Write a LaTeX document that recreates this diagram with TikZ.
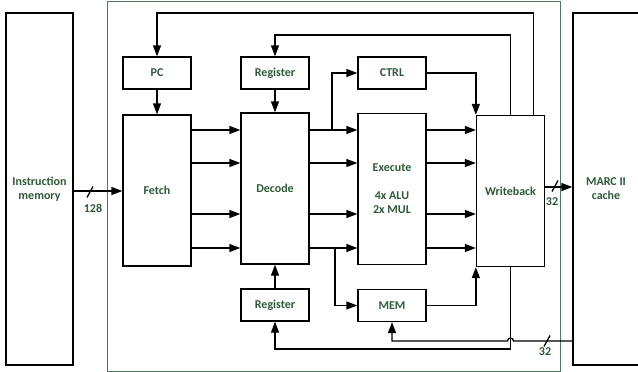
\documentclass[tikz,border=0pt]{standalone}
\usepackage{fontspec}
\setmainfont{Carlito}
\usetikzlibrary{arrows.meta,calc}
\definecolor{labelgreen}{HTML}{2D5A36}
\definecolor{framegreen}{HTML}{4F7A5A}

\begin{document}
\begin{tikzpicture}[x=1pt,y=-1pt,line width=1.3pt,every node/.style={font=\fontsize{12}{14}\selectfont\bfseries,text=labelgreen},box/.style={draw=black,minimum width=68pt,inner sep=0pt,align=center},small/.style={box,minimum height=32pt},stage/.style={box,minimum height=151pt},arr/.style={-{Triangle[length=11pt,width=8pt]}}]
\useasboundingbox (0,0) rectangle (638,372);
\node[draw=framegreen,line width=.7pt,minimum width=453pt,minimum height=370pt,inner sep=0pt] (core) at (333.5,186) {};
\node[box,minimum width=67pt,minimum height=352pt] (imem) at (39.5,189) {Instruction\\memory};\node[box,minimum width=66pt,minimum height=352pt] (marc) at (606,189) {MARC II\\cache};
\node[small] (pc) at (157,73) {PC};\node[small] (regt) at (275,73) {Register};\node[small] (ctrl) at (392,73) {CTRL};
\node[stage] (fetch) at (157,190.5) {Fetch};\node[stage] (decode) at (275,188.5) {Decode};\node[stage] (exec) at (392,189) {Execute\\[14pt]4x ALU\\2x MUL};\node[stage] (wb) at (510.5,191) {Writeback};
\node[small] (regb) at (275,305) {Register};\node[small] (mem) at (392,305.5) {MEM};
\coordinate (brup) at (332,130);\coordinate (brdn) at (335,248);\coordinate (wbtap) at ([xshift=-11.5pt]wb.north east);
\draw[arr] (pc) -- (fetch);\draw[arr] (regt) -- (decode);\draw[arr] (regb) -- (decode);
\foreach \y in {130,163,214,248}{\draw[arr] (fetch.east|-0,\y) -- (decode.west|-0,\y);\draw[arr] (decode.east|-0,\y) -- (exec.west|-0,\y);\draw[arr] (exec.east|-0,\y) -- (wb.west|-0,\y);}
\draw[arr] (brup) |- (ctrl);\draw[arr] (brdn) |- (mem);
\draw[arr] (ctrl) -| (wb.north west);\draw[arr] (mem) -| (wb.south west);
\draw[arr] (wb.north) -- (wb.north|-0,35) -| (regt);\draw[arr] (wbtap) -- (wbtap|-0,13) -| (pc);
\draw[arr] (wb.south) -- (wb.south|-0,349) -| (regb);
\draw[arr] (marc.west|-0,341) -- (513.5,341) arc[start angle=0,end angle=-180,radius=3] -- (mem|-0,341) -- (mem);
\draw[arr] (imem.east|-0,191) -- (fetch.west|-0,191);\draw[arr] (wb.east|-0,187) -- (marc.west|-0,187);
\coordinate (s1) at (90,192);\coordinate (s2) at (547,341);\coordinate (s3) at (555,186);
\foreach \s in {s1,s2,s3}{\draw (\s)++(-3,5.5) -- ++(6,-11);}
\node (b1) at (93,208) {128};\node (b2) at (545,352) {32};\node (b3) at (552,202) {32};
\end{tikzpicture}
\end{document}
